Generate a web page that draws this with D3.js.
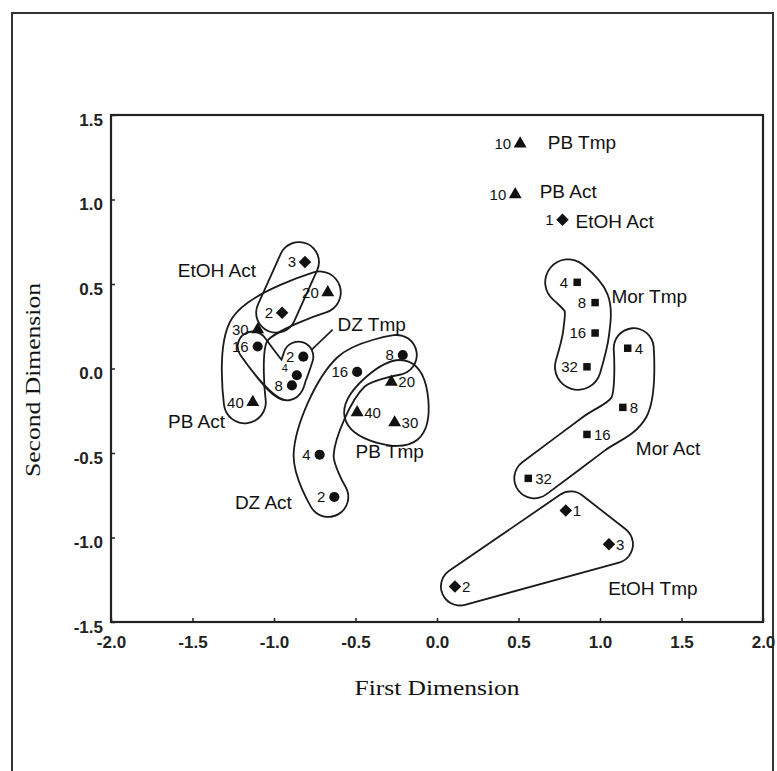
<!DOCTYPE html>
<html>
<head>
  <meta charset="utf-8">
  <title>First / Second Dimension</title>
  <script src="https://cdn.jsdelivr.net/npm/d3@7"></script>
  <style>
    body { margin: 0; background: #fff; }
    .tick text { font-family: "Liberation Sans", Arial, sans-serif; font-size: 17px; font-weight: bold; fill: #222; }
    .tick line { stroke: #222; stroke-width: 1.5; }
    .ptlab { font-family: "Liberation Sans", Arial, sans-serif; font-size: 15px; fill: #111; }
    .ptlab.small { font-size: 11px; }
    .grplab { font-family: "Liberation Sans", Arial, sans-serif; font-size: 19px; fill: #111; }
    .title { font-family: "Liberation Serif", "Times New Roman", serif; font-size: 21px; fill: #111; }
  </style>
</head>
<body>
<script>
// axis ticks
var xTicks = [-2.0, -1.5, -1.0, -0.5, 0.0, 0.5, 1.0, 1.5, 2.0];
var yTicks = [-1.5, -1.0, -0.5, 0.0, 0.5, 1.0, 1.5];

// point coordinates, one array per series (dose, first dim, second dim)
var etohAct = [{dose: 1, x: 0.77, y: 0.88}, {dose: 2, x: -0.95, y: 0.33}, {dose: 3, x: -0.81, y: 0.63}];
var etohTmp = [{dose: 1, x: 0.79, y: -0.84}, {dose: 2, x: 0.11, y: -1.29}, {dose: 3, x: 1.055, y: -1.04}];
var pbAct = [{dose: 10, x: 0.48, y: 1.03}, {dose: 20, x: -0.67, y: 0.45}, {dose: 30, x: -1.10, y: 0.23}, {dose: 40, x: -1.13, y: -0.20}];
var pbTmp = [{dose: 10, x: 0.51, y: 1.33}, {dose: 20, x: -0.28, y: -0.08}, {dose: 30, x: -0.26, y: -0.32}, {dose: 40, x: -0.49, y: -0.26}];
var dzAct = [{dose: 2, x: -0.63, y: -0.76}, {dose: 4, x: -0.72, y: -0.51}, {dose: 8, x: -0.21, y: 0.08}, {dose: 16, x: -0.49, y: -0.02}];
var dzTmp = [{dose: 2, x: -0.82, y: 0.07}, {dose: 4, x: -0.86, y: -0.04}, {dose: 8, x: -0.89, y: -0.10}, {dose: 16, x: -1.10, y: 0.13}];
var morAct = [{dose: 4, x: 1.17, y: 0.12}, {dose: 8, x: 1.14, y: -0.23}, {dose: 16, x: 0.92, y: -0.39}, {dose: 32, x: 0.56, y: -0.65}];
var morTmp = [{dose: 4, x: 0.86, y: 0.51}, {dose: 8, x: 0.97, y: 0.39}, {dose: 16, x: 0.97, y: 0.21}, {dose: 32, x: 0.92, y: 0.01}];

// drawing setup per series: marker, which side the dose goes, and the loop round the members
var series = [
  {data: etohAct, shape: "diamond", side: "left", loop: {order: [3, 2], r: 20, shift: -6}},
  {data: etohTmp, shape: "diamond", side: "right", loop: {order: [2, 1, 3], r: 19, shift: 5, closed: true, straight: true}},
  {data: pbAct, shape: "triangle", side: "left", loop: {order: [20, 30, 40], r: 21, shift: -8}},
  {data: pbTmp, shape: "triangle", side: "right", flip: [10], loop: {order: [20, 40, 30], r: 22, shift: 9, closed: true}},
  {data: dzAct, shape: "circle", side: "left", loop: {order: [8, 16, 4, 2], r: 20, shift: -6}},
  {data: dzTmp, shape: "circle", side: "left", small: [4], loop: {order: [16, 8, 4, 2], r: 15, shift: -5}},
  {data: morAct, shape: "square", side: "right", loop: {order: [4, 8, 16, 32], r: 20, shift: 6}},
  {data: morTmp, shape: "square", side: "left", loop: {order: [4, 8, 16, 32], r: 23, shift: -9}}
];

// group names placed in data units (left end, baseline)
var groupLabels = [
  {text: "EtOH Act", x: -1.59, y: 0.54},
  {text: "PB Act", x: -1.65, y: -0.35},
  {text: "DZ Tmp", x: -0.61, y: 0.22},
  {text: "PB Tmp", x: -0.50, y: -0.53},
  {text: "DZ Act", x: -1.24, y: -0.83},
  {text: "PB Tmp", x: 0.68, y: 1.30},
  {text: "PB Act", x: 0.63, y: 1.01},
  {text: "EtOH Act", x: 0.85, y: 0.83},
  {text: "Mor Tmp", x: 1.07, y: 0.39},
  {text: "Mor Act", x: 1.22, y: -0.51},
  {text: "EtOH Tmp", x: 1.05, y: -1.34}
];
var leader = [{x: -0.64, y: 0.23}, {x: -0.77, y: 0.11}];

var W = 777, H = 771;
var svg = d3.select("body").append("svg").attr("width", W).attr("height", H);
var x = d3.scaleLinear().domain([-2, 2]).range([111, 763]);
var y = d3.scaleLinear().domain([-1.5, 1.5]).range([622, 115]);
var fmt = function (v) { return v.toFixed(1); };

// outer frame of the figure
svg.append("rect").attr("x", 12).attr("y", 13).attr("width", 761).attr("height", 775)
  .attr("fill", "none").attr("stroke", "#333").attr("stroke-width", 2);

// axes with inward ticks
var gx = svg.append("g").attr("transform", "translate(0," + y(-1.5) + ")")
  .call(d3.axisBottom(x).tickValues(xTicks).tickFormat(fmt).tickSize(-4).tickPadding(14));
var gy = svg.append("g").attr("transform", "translate(" + x(-2) + ",0)")
  .call(d3.axisLeft(y).tickValues(yTicks).tickFormat(fmt).tickSize(-4).tickPadding(8));
gx.select(".domain").remove();
gy.select(".domain").remove();
gy.selectAll(".tick text").attr("dy", "0.6em");

svg.append("rect").attr("x", x(-2)).attr("y", y(1.5))
  .attr("width", x(2) - x(-2)).attr("height", y(-1.5) - y(1.5))
  .attr("fill", "none").attr("stroke", "#222").attr("stroke-width", 2.2);

// axis titles
svg.append("text").attr("class", "title").attr("x", x(0)).attr("y", 695)
  .attr("text-anchor", "middle").attr("textLength", 165).attr("lengthAdjust", "spacingAndGlyphs")
  .text("First Dimension");
svg.append("text").attr("class", "title")
  .attr("transform", "translate(40,380) rotate(-90)")
  .attr("text-anchor", "middle").attr("textLength", 194).attr("lengthAdjust", "spacingAndGlyphs")
  .text("Second Dimension");

// loops: outline of a thick rounded stroke along the members, cut out with a mask
var defs = svg.append("defs");
var t = 1.8;
series.forEach(function (s, i) {
  var L = s.loop;
  var pts = L.order.map(function (dose) {
    var d = s.data.find(function (p) { return p.dose === dose; });
    return [x(d.x) + L.shift, y(d.y)];
  });
  var curve;
  if (L.straight) curve = L.closed ? d3.curveLinearClosed : d3.curveLinear;
  else curve = L.closed ? d3.curveCatmullRomClosed.alpha(0.5) : d3.curveCatmullRom.alpha(0.5);
  var path = d3.line().curve(curve)(pts);
  var m = defs.append("mask").attr("id", "loop" + i).attr("maskUnits", "userSpaceOnUse")
    .attr("x", 0).attr("y", 0).attr("width", W).attr("height", H);
  m.append("path").attr("d", path).attr("fill", L.closed ? "white" : "none").attr("stroke", "white")
    .attr("stroke-width", 2 * L.r + t).attr("stroke-linejoin", "round").attr("stroke-linecap", "round");
  m.append("path").attr("d", path).attr("fill", L.closed ? "black" : "none").attr("stroke", "black")
    .attr("stroke-width", 2 * L.r - t).attr("stroke-linejoin", "round").attr("stroke-linecap", "round");
  svg.append("rect").attr("width", W).attr("height", H).attr("fill", "#1a1a1a")
    .attr("mask", "url(#loop" + i + ")");
});

svg.append("line").attr("x1", x(leader[0].x)).attr("y1", y(leader[0].y))
  .attr("x2", x(leader[1].x)).attr("y2", y(leader[1].y))
  .attr("stroke", "#1a1a1a").attr("stroke-width", 1.6);

// markers and dose labels
var shapes = {
  diamond: d3.symbol().type(d3.symbolSquare).size(78)(),
  triangle: d3.symbol().type(d3.symbolTriangle).size(72)(),
  circle: d3.symbol().type(d3.symbolCircle).size(80)(),
  square: d3.symbol().type(d3.symbolSquare).size(56)()
};
series.forEach(function (s) {
  var small = s.small || [];
  var flip = s.flip || [];
  var onLeft = function (d) {
    var left = s.side === "left";
    return flip.indexOf(d.dose) >= 0 ? !left : left;
  };
  var g = svg.append("g");
  g.selectAll("path").data(s.data).enter().append("path")
    .attr("d", shapes[s.shape])
    .attr("transform", function (d) {
      return "translate(" + x(d.x) + "," + y(d.y) + ")" + (s.shape === "diamond" ? " rotate(45)" : "");
    })
    .attr("fill", "#111");
  g.selectAll("text").data(s.data).enter().append("text")
    .attr("class", function (d) { return small.indexOf(d.dose) >= 0 ? "ptlab small" : "ptlab"; })
    .attr("x", function (d) { return x(d.x) + (onLeft(d) ? -9 : 7); })
    .attr("y", function (d) { return y(d.y); })
    .attr("dy", function (d) { return small.indexOf(d.dose) >= 0 ? "-0.3em" : "0.36em"; })
    .attr("text-anchor", function (d) { return onLeft(d) ? "end" : "start"; })
    .text(function (d) { return d.dose; });
});

svg.selectAll(".grplab").data(groupLabels).enter().append("text")
  .attr("class", "grplab")
  .attr("x", function (d) { return x(d.x); })
  .attr("y", function (d) { return y(d.y); })
  .text(function (d) { return d.text; });
</script>
</body>
</html>
